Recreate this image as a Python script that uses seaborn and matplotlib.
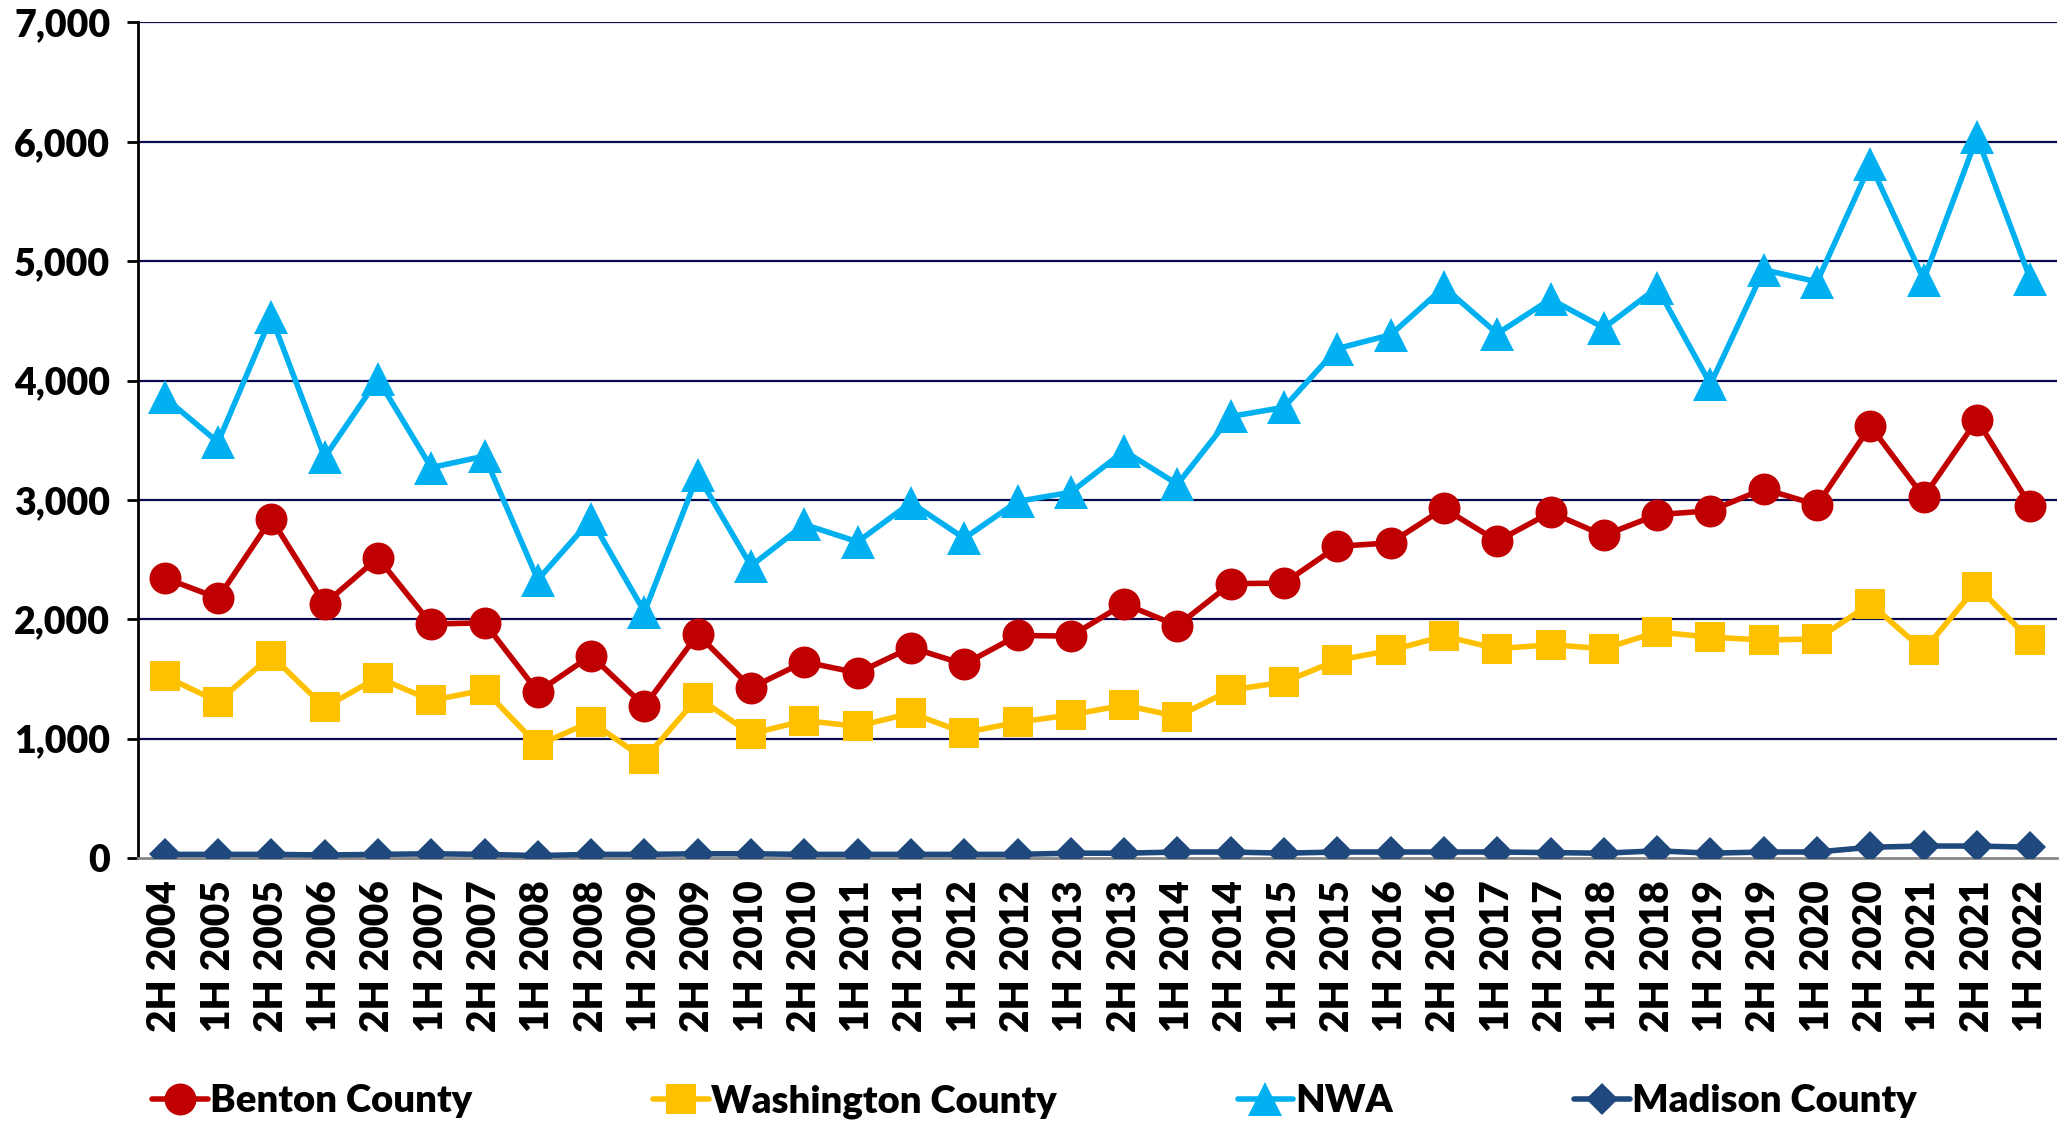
import pandas as pd
import matplotlib
matplotlib.use("Agg")
import matplotlib.pyplot as plt
import seaborn as sns

# half-year periods
periods = ["2H 2004", "1H 2005", "2H 2005", "1H 2006", "2H 2006", "1H 2007", "2H 2007",
           "1H 2008", "2H 2008", "1H 2009", "2H 2009", "1H 2010", "2H 2010", "1H 2011",
           "2H 2011", "1H 2012", "2H 2012", "1H 2013", "2H 2013", "1H 2014", "2H 2014",
           "1H 2015", "2H 2015", "1H 2016", "2H 2016", "1H 2017", "2H 2017", "1H 2018",
           "2H 2018", "1H 2019", "2H 2019", "1H 2020", "2H 2020", "1H 2021", "2H 2021",
           "1H 2022"]

benton = [2346, 2177, 2842, 2129, 2514, 1960, 1970, 1392, 1696, 1272, 1874, 1426, 1643, 1551,
          1763, 1623, 1864, 1859, 2129, 1946, 2298, 2303, 2611, 2640, 2929, 2654, 2895, 2702,
          2876, 2909, 3092, 2958, 3618, 3025, 3671, 2953]
washington = [1522, 1310, 1696, 1262, 1512, 1320, 1407, 944, 1142, 829, 1344, 1040, 1151, 1103,
              1214, 1050, 1137, 1199, 1281, 1185, 1407, 1474, 1657, 1739, 1859, 1753, 1787, 1753,
              1893, 1850, 1826, 1835, 2129, 1739, 2274, 1826]
nwa = [3858, 3483, 4533, 3357, 4012, 3271, 3367, 2331, 2837, 2062, 3208, 2447, 2794, 2649,
       2977, 2678, 2987, 3064, 3410, 3131, 3699, 3776, 4268, 4383, 4783, 4393, 4682, 4441,
       4778, 3969, 4928, 4827, 5814, 4846, 6040, 4851]
madison = [30, 30, 30, 25, 30, 35, 30, 20, 30, 30, 35, 35, 30, 30, 30, 30, 30, 40, 40, 50,
           50, 40, 50, 50, 50, 50, 45, 40, 60, 40, 50, 50, 90, 100, 100, 90]

series = {"Benton County": benton, "Washington County": washington,
          "NWA": nwa, "Madison County": madison}
colors = {"Benton County": "#C00000", "Washington County": "#FFC000",
          "NWA": "#00B0F0", "Madison County": "#1F497D"}
markers = {"Benton County": ("o", 23), "Washington County": ("s", 21),
           "NWA": ("^", 24), "Madison County": ("D", 16)}

rows = []
for name, vals in series.items():
    for i, v in enumerate(vals):
        rows.append({"idx": i, "value": v, "series": name})
df = pd.DataFrame(rows)

sns.set_style("white")
plt.rcParams["font.family"] = ["Lato", "DejaVu Sans"]
plt.rcParams["font.weight"] = "bold"
plt.rcParams["text.color"] = "black"
plt.rcParams["xtick.color"] = "black"
plt.rcParams["ytick.color"] = "black"

fig = plt.figure(figsize=(20.7, 11.23), dpi=100)
ax = fig.add_axes([0.0667, 0.236, 0.927, 0.744])

# draw gridlines first so they sit under the lines
for yv in range(1000, 7001, 1000):
    ax.axhline(yv, color="#0A0A50", lw=1.6, zorder=0)

for name in series:
    m, ms = markers[name]
    sns.lineplot(data=df[df["series"] == name], x="idx", y="value", ax=ax,
                 color=colors[name], lw=4, marker=m, markersize=ms,
                 markeredgewidth=0, label=name, zorder=3)

ax.set_xlim(-0.5, len(periods) - 0.5)
ax.set_ylim(0, 7000)
ax.set_yticks(range(0, 7001, 1000))
ax.set_yticklabels([f"{v:,}" for v in range(0, 7001, 1000)], fontsize=27, fontweight="heavy")
ax.set_xticks(range(len(periods)))
ax.set_xticklabels(periods, rotation=90, fontsize=28, fontweight="heavy")
ax.set_xlabel("")
ax.set_ylabel("")

ax.tick_params(axis="y", length=8, width=2, color="black", pad=12, direction="out", left=True)
ax.tick_params(axis="x", length=0, pad=16)

for s in ["top", "right"]:
    ax.spines[s].set_visible(False)
ax.spines["left"].set_color("black")
ax.spines["left"].set_linewidth(2)
ax.spines["bottom"].set_color("#888888")
ax.spines["bottom"].set_linewidth(2)

ax.get_legend().remove()
handles, labels = ax.get_legend_handles_labels()
fig.legend(handles, labels, loc="center left", bbox_to_anchor=(0.057, 0.019), ncol=4,
           frameon=False, handlelength=1.45, handletextpad=0.05,
           columnspacing=4.75, prop={"weight": "heavy", "size": 27.5})

plt.savefig("out.png", dpi=100)
